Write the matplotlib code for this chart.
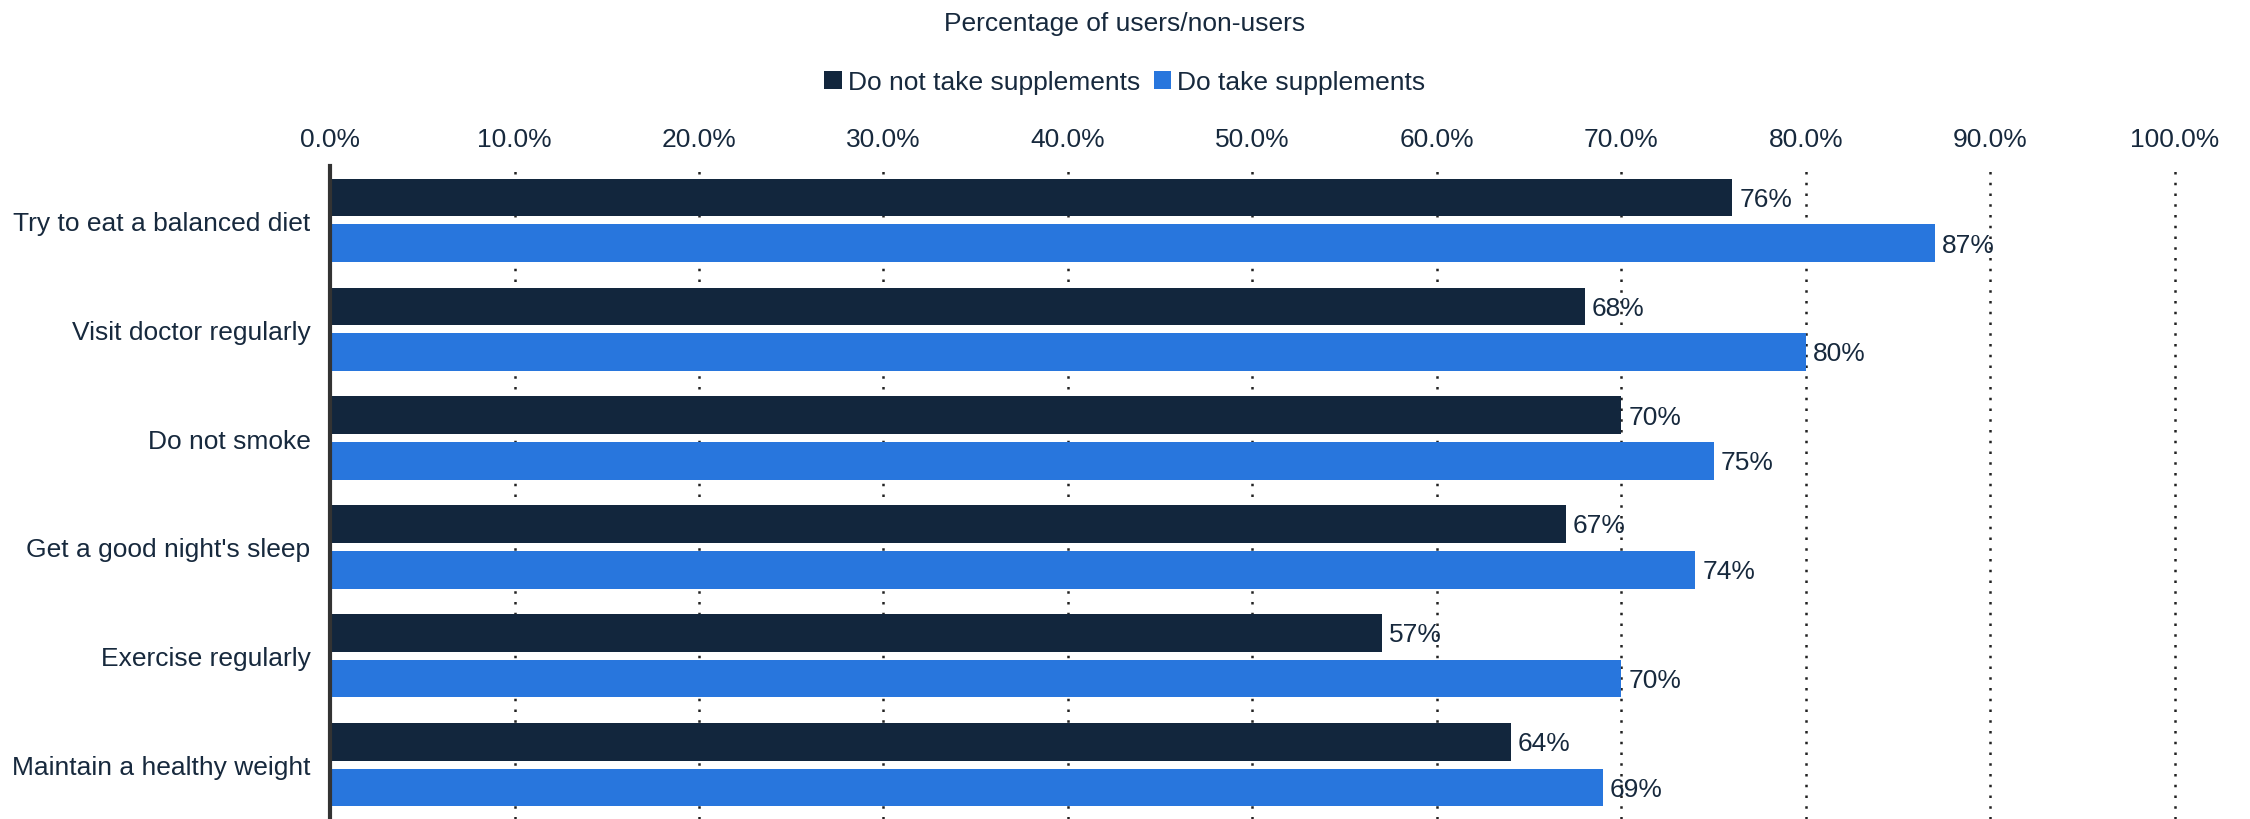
import matplotlib
matplotlib.use("Agg")
import matplotlib.pyplot as plt
import numpy as np
from matplotlib.patches import Patch

plt.rcParams['font.family'] = ['Liberation Sans', 'DejaVu Sans']

categories = [
    "Try to eat a balanced diet",
    "Visit doctor regularly",
    "Do not smoke",
    "Get a good night's sleep",
    "Exercise regularly",
    "Maintain a healthy weight",
]
no_supplements = [76, 68, 70, 67, 57, 64]
with_supplements = [87, 80, 75, 74, 70, 69]
series_names = ["Do not take supplements", "Do take supplements"]
x_ticks = [0, 10, 20, 30, 40, 50, 60, 70, 80, 90, 100]

DARK = "#12263d"
BLUE = "#2876dd"
TEXT = "#17293d"
FS = 19

W, H = 2250, 820
fig = plt.figure(figsize=(W / 100, H / 100), dpi=100)
ax = fig.add_axes([330 / W, 0, (2175 - 330) / W, 1 - 167 / H])

y = np.arange(len(categories))
bh = 0.345
off = 0.21
b1 = ax.barh(y - off, no_supplements, height=bh, color=DARK, zorder=3)
b2 = ax.barh(y + off, with_supplements, height=bh, color=BLUE, zorder=3)

for bars, vals in ((b1, no_supplements), (b2, with_supplements)):
    for rect, v in zip(bars, vals):
        ax.annotate(f"{v}%", xy=(v, rect.get_y() + rect.get_height() / 2),
                    xytext=(5, -1), textcoords="offset points",
                    ha="left", va="center", fontsize=FS, color=TEXT, zorder=4)

ax.set_xlim(0, 100)
ax.set_ylim(len(categories) - 0.5, -0.5)
ax.set_xticks(x_ticks)
ax.set_xticklabels([f"{t:.1f}%" for t in x_ticks])
ax.set_yticks(y)
ax.set_yticklabels(categories)
ax.xaxis.tick_top()
ax.tick_params(axis="x", length=0, pad=11, labelsize=FS, labelcolor=TEXT)
ax.tick_params(axis="y", length=0, pad=14, labelsize=FS, labelcolor=TEXT)

# dotted vertical guides behind the bars, including the one at 100%
for t in x_ticks[1:]:
    ax.axvline(t, color="#222222", linestyle=(0, (1, 3.3)), linewidth=1.8,
               zorder=1, clip_on=False)
for s in ("top", "right", "bottom"):
    ax.spines[s].set_visible(False)
ax.spines["left"].set_color("#333333")
ax.spines["left"].set_linewidth(3)
ax.spines["left"].set_zorder(5)

fig.text(0.5, 1 - 24 / H, "Percentage of users/non-users", ha="center", va="center",
         fontsize=FS, color=TEXT)

handles = [Patch(facecolor=DARK), Patch(facecolor=BLUE)]
fig.legend(handles, series_names, loc="center", bbox_to_anchor=(0.5, 1 - 83 / H),
           ncol=2, frameon=False, fontsize=FS, labelcolor=TEXT,
           handlelength=0.65, handleheight=0.65, handletextpad=0.25,
           columnspacing=0.5, borderaxespad=0)

fig.savefig("out.png", dpi=100, facecolor="white")
